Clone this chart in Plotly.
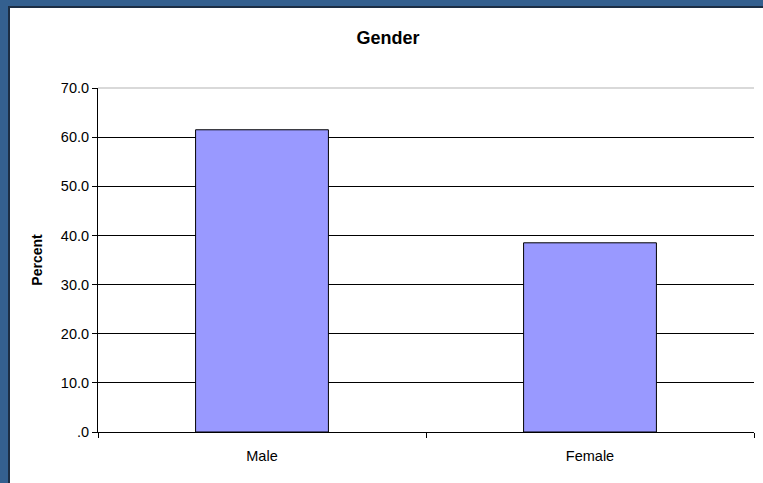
import plotly.graph_objects as go

categories = ["Male", "Female"]
percent = [61.5, 38.5]
y_tickvals = [0, 10, 20, 30, 40, 50, 60, 70]
y_ticktext = [".0", "10.0", "20.0", "30.0", "40.0", "50.0", "60.0", "70.0"]

W, H = 763, 483
L, R, T, B = 98, 9, 88, 51
pw = W - L - R
ph = H - T - B

def px_x(p):
    return (p - L) / pw

def px_y(p):
    return (H - B - p) / ph

fig = go.Figure()
fig.add_trace(go.Bar(
    x=categories, y=percent,
    marker=dict(color="#9999FF", line=dict(color="#000000", width=1)),
    width=0.405,
))

fig.update_layout(
    width=W, height=H,
    margin=dict(l=L, r=R, t=T, b=B),
    paper_bgcolor="#34608f",
    plot_bgcolor="rgba(0,0,0,0)",
    showlegend=False,
    font=dict(family="Liberation Sans, Arial, sans-serif", size=14, color="#000000"),
    title=dict(text="<b>Gender</b>", x=px_x(388), xanchor="center", xref="paper",
               y=1 - 38 / H, yanchor="middle", font=dict(size=18)),
    shapes=[
        dict(type="rect", xref="paper", yref="paper",
             x0=px_x(8), x1=px_x(770), y0=px_y(490), y1=px_y(6),
             fillcolor="#1c2e44", line=dict(width=0), layer="below"),
        dict(type="rect", xref="paper", yref="paper",
             x0=px_x(10), x1=px_x(770), y0=px_y(490), y1=px_y(8),
             fillcolor="#ffffff", line=dict(width=0), layer="below"),
        dict(type="line", xref="paper", yref="paper",
             x0=0, x1=1, y0=1, y1=1,
             line=dict(color="#cccccc", width=1.5), layer="below"),
    ],
    bargap=0.595,
)
fig.update_xaxes(
    showline=True, linecolor="#000000", linewidth=1,
    ticks="outside", tickson="boundaries", ticklen=5, tickcolor="#000000",
    showgrid=False, tickfont=dict(size=14.5), zeroline=False,
    ticklabelstandoff=11,
)
fig.update_yaxes(
    range=[0, 70], tickvals=y_tickvals, ticktext=y_ticktext,
    showline=True, linecolor="#000000", linewidth=1,
    ticks="outside", ticklen=5, tickcolor="#000000",
    showgrid=True, gridcolor="#000000", gridwidth=1,
    zeroline=False, tickfont=dict(size=14.5),
    title=dict(text="<b>Percent</b>", font=dict(size=14), standoff=14),
)

fig.write_html("out.html", config={"displayModeBar": False},
               post_script="document.body.style.margin='0px';")
